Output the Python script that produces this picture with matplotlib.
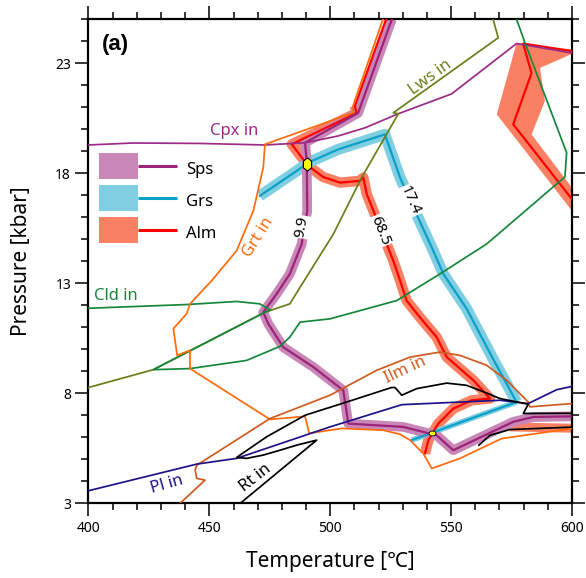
import numpy as np
import matplotlib
matplotlib.use("Agg")
import matplotlib.pyplot as plt
from matplotlib.lines import Line2D
from matplotlib.path import Path
from matplotlib.legend_handler import HandlerTuple

plt.rcParams['font.family'] = ['Noto Sans', 'Noto Sans CJK JP', 'DejaVu Sans']

# --- phase boundaries, T [C] / P [kbar] ---
cpx_T = [400, 418.4, 446.1, 473.0, 489.6, 503.3, 514.4, 528.2, 550.2, 577.1, 600]
cpx_P = [19.29, 19.38, 19.36, 19.29, 19.39, 19.70, 20.07, 20.71, 21.61, 23.90, 23.47]

lws_T = [400, 426.8, 473.0, 483.3, 487.5, 501.3, 513.0, 528.2, 526.1, 569.5, 567.4]
lws_P = [8.27, 9.08, 11.69, 12.07, 12.82, 15.24, 17.81, 20.71, 20.75, 24.16, 25.0]

cld_T = [400, 440.6, 461.3, 470.9, 475.1, 473.0, 426.8, 442.0, 465.4, 479.2, 483.3, 487.5,
         499.9, 527.5, 545.4, 564.7, 597.1, 597.8, 580.6, 577.1]
cld_P = [11.87, 12.04, 12.18, 12.07, 11.80, 11.69, 9.08, 9.13, 9.50, 10.14, 10.56, 11.24,
         11.39, 12.22, 13.43, 14.79, 17.84, 18.94, 23.92, 25.0]

grt_T = [521.8, 509.4, 509.5, 473.0, 472.3, 468.2, 461.3, 451.0, 442.0, 440.6, 435.1, 436.7,
         442.0, 442.0, 475.1, 489.6, 491.3, 504.7, 521.9, 528.8, 533.0, 538.5, 542.0, 553.7,
         570.9, 600]
grt_P = [25.0, 21.06, 20.75, 19.32, 18.26, 16.30, 14.49, 13.13, 12.07, 11.62, 10.94, 9.73,
         9.96, 9.13, 6.82, 6.96, 6.19, 6.41, 6.33, 6.15, 5.88, 5.27, 4.59, 5.05, 5.95, 6.41]

ilm_T = [437.8, 448.2, 444.8, 444.1, 444.8, 475.1, 499.9, 519.2, 533.0, 545.4, 553.7, 564.7,
         573.0, 581.9, 582.6, 600]
ilm_P = [3.0, 4.06, 4.14, 4.52, 4.74, 6.86, 7.92, 9.05, 9.65, 9.88, 9.73, 9.28, 8.60, 7.61,
         7.39, 7.54]

pl_T = [400, 444.8, 461.3, 499.9, 529.6, 570.2, 581.9, 593.7, 600]
pl_P = [3.58, 4.79, 5.05, 6.48, 7.49, 7.69, 7.54, 8.17, 8.32]

rt_T = [462.7, 494.4, 486.1, 479.2, 472.3, 465.4, 461.3, 462.7, 473.7, 489.6, 506.8, 525.4,
        526.8, 529.6, 535.8, 548.2, 556.4, 564.7, 570.2, 581.9, 579.9, 600]
rt_P = [3.0, 5.88, 5.65, 5.42, 5.20, 5.05, 5.09, 5.20, 6.03, 7.01, 7.61, 8.27, 8.27, 7.92,
        8.22, 8.47, 8.37, 8.02, 7.77, 7.51, 7.09, 7.1]
rt2_T = [561.5, 566.1, 574.3, 600]
rt2_P = [5.65, 6.10, 6.36, 6.47]

# --- garnet isopleths (mol%) with uncertainty bands ---
sps_T = [525.5, 512.3, 511.6, 489.6, 490.3, 490.5, 488.2, 483.3, 477.8, 472.3, 474.4, 480.6,
         493.0, 505.4, 507.5, 530.2, 544.0, 550.9, 575.7, 584.0, 600]
sps_P = [25.0, 20.98, 20.75, 19.39, 18.49, 16.30, 14.79, 13.43, 12.52, 11.69, 11.16, 10.10,
         9.20, 8.14, 6.63, 6.48, 6.10, 5.42, 6.71, 6.93, 6.96]

grs_T = [470.9, 486.1, 490.9, 503.3, 522.6, 528.9, 534.4, 542.6, 546.8, 556.4, 567.7, 577.1]
grs_P = [16.98, 18.11, 18.49, 19.09, 19.77, 17.81, 16.45, 14.49, 13.43, 11.86, 9.50, 7.61]
grs2_T = [577.1, 533.7]
grs2_P = [7.61, 5.88]

alm_T = [523.1, 510.2, 510.9, 484.1, 490.9, 497.0, 504.0, 512.3, 513.7, 515.1, 526.1, 528.9,
         531.6, 537.1, 544.0, 548.2, 559.2, 566.1, 558.5, 550.9, 544.7, 540.6, 539.2]
alm_P = [25.0, 21.06, 20.74, 19.32, 18.34, 17.84, 17.58, 17.66, 17.81, 17.06, 14.03, 13.13,
         12.22, 11.46, 10.56, 9.65, 8.60, 7.77, 7.69, 7.31, 6.63, 5.88, 5.27]
alm2_T = [600, 579.8, 583.3, 575.7, 600]
alm2_P = [23.55, 23.90, 22.56, 20.23, 16.83]
alm2_band_T = [577.1, 600, 600, 586.8, 588.8, 583.3, 600, 600, 568.9]
alm2_band_P = [23.92, 23.63, 23.43, 22.79, 21.28, 19.77, 17.35, 16.30, 20.68]
alm3_T = [574.3, 600]
alm3_P = [6.48, 6.42]

iso_labels = ["9.9", "68.5", "17.4"]
iso_T = [488.3, 520.6, 533.0]
iso_P = [15.57, 15.39, 16.75]
iso_rot = [80, -68, -66]

field_labels = ["Cpx in", "Lws in", "Grt in", "Cld in", "Ilm in", "Pl in", "Rt in"]
field_T = [460.2, 541.3, 470.2, 411.4, 530.9, 432.5, 468.9]
field_P = [19.92, 22.34, 15.09, 12.45, 9.05, 3.84, 4.16]
field_rot = [0, 36, 58, 0, 25, 16, 38]

pt_T = [490.2, 542.0]
pt_P = [18.41, 6.21]

# colours
SPS_L, SPS_B = "#9b2479", "#c987b7"
GRS_L, GRS_B = "#0ba0c8", "#80cee1"
ALM_L, ALM_B = "#ff0000", "#f98063"
CPX, LWS, CLD, GRT = "#9c2a86", "#6b7d1a", "#16873a", "#ff6a0a"
ILM, PL, RT = "#cf5a1e", "#1d1288", "black"
field_cols = [CPX, LWS, GRT, CLD, ILM, PL, RT]

fig = plt.figure(figsize=(5.86, 5.78), dpi=100)
ax = fig.add_axes([0.151, 0.1289, 0.825, 0.8377])

band = dict(solid_capstyle="butt", solid_joinstyle="round", zorder=1)
ax.fill(alm2_band_T, alm2_band_P, color=ALM_B, lw=0, zorder=1)
ax.plot(alm_T[1:], alm_P[1:], color=ALM_B, lw=7.5, **band)
ax.plot(alm3_T, alm3_P, color=ALM_B, lw=6.5, **band)
ax.plot(grs_T, grs_P, color=GRS_B, lw=8, **band)
ax.plot(grs2_T, grs2_P, color=GRS_B, lw=4, **band)
ax.plot(sps_T, sps_P, color=SPS_B, lw=7, **band)

iso = dict(lw=1.6, zorder=3)
ax.plot(alm_T, alm_P, color=ALM_L, **iso)
ax.plot(alm2_T, alm2_P, color=ALM_L, **iso)
ax.plot(grs_T, grs_P, color=GRS_L, **iso)
ax.plot(grs2_T, grs2_P, color=GRS_L, **iso)
ax.plot(sps_T, sps_P, color=SPS_L, **iso)

thin = dict(lw=1.25, zorder=4)
ax.plot(cpx_T, cpx_P, color=CPX, **thin)
ax.plot(lws_T, lws_P, color=LWS, **thin)
ax.plot(cld_T, cld_P, color=CLD, **thin)
ax.plot(grt_T, grt_P, color=GRT, **thin)
ax.plot(ilm_T, ilm_P, color=ILM, **thin)
ax.plot(pl_T, pl_P, color=PL, **thin)
ax.plot(rt_T, rt_P, color=RT, **thin)
ax.plot(rt2_T, rt2_P, color=RT, **thin)

# yellow intersection markers
hex_tall = Path([(0, 1), (0.62, 0.5), (0.62, -0.5), (0, -1), (-0.62, -0.5), (-0.62, 0.5), (0, 1)])
hex_flat = Path([(1, 0), (0.5, 0.62), (-0.5, 0.62), (-1, 0), (-0.5, -0.62), (0.5, -0.62), (1, 0)])
ax.plot(pt_T[0], pt_P[0], marker=hex_tall, ms=9.5, mfc="#ffff00", mec="black", mew=0.8, zorder=6)
ax.plot(pt_T[1], pt_P[1], marker=hex_flat, ms=5.5, mfc="#ffff00", mec="black", mew=0.6, zorder=6)

for s, t, p, r in zip(iso_labels, iso_T, iso_P, iso_rot):
    ax.text(t, p, s, rotation=r, ha="center", va="center", fontsize=11, zorder=5,
            bbox=dict(fc="white", ec="none", pad=0.6), rotation_mode="anchor")
for s, t, p, r, c in zip(field_labels, field_T, field_P, field_rot, field_cols):
    ax.text(t, p, s, rotation=r, ha="center", va="center", fontsize=12, color=c,
            rotation_mode="anchor", zorder=5)
ax.text(411.0, 23.87, "(a)", fontsize=16, fontweight="bold", ha="center", va="center",
        family=["Liberation Sans", "DejaVu Sans"])

# legend: band + centre line
def handle(bc, lc):
    return (Line2D([], [], color=bc, lw=18.7, solid_capstyle="butt"),
            Line2D([], [], color=lc, lw=2.2, solid_capstyle="butt"))
ax.legend([handle(SPS_B, SPS_L), handle(GRS_B, GRS_L), handle(ALM_B, ALM_L)],
          ["Sps", "Grs", "Alm"], handler_map={tuple: HandlerTuple(ndivide=None)},
          loc="upper left", bbox_to_anchor=(0.0217, 0.714), frameon=False, fontsize=12,
          handlelength=4.7, handleheight=1.6, labelspacing=0.65, handletextpad=0.55,
          borderpad=0, borderaxespad=0)

ax.set_xlim(400, 600)
ax.set_ylim(3, 25)
ax.set_xticks(np.arange(400, 601, 50))
ax.set_xticks(np.arange(400, 601, 10), minor=True)
ax.set_yticks(np.arange(3, 25, 5))
ax.set_yticks(np.arange(3, 26, 1), minor=True)
ax.tick_params(which="both", direction="out", top=True, right=True, width=1.1, labelsize=10)
ax.tick_params(which="major", length=9.5, pad=3)
ax.tick_params(which="minor", length=5)
for sp in ax.spines.values():
    sp.set_linewidth(1.6)
ax.set_xlabel("Temperature [℃]", fontsize=15, labelpad=11)
ax.set_ylabel("Pressure [kbar]", fontsize=15, labelpad=17)

fig.savefig("out.png", dpi=100)
